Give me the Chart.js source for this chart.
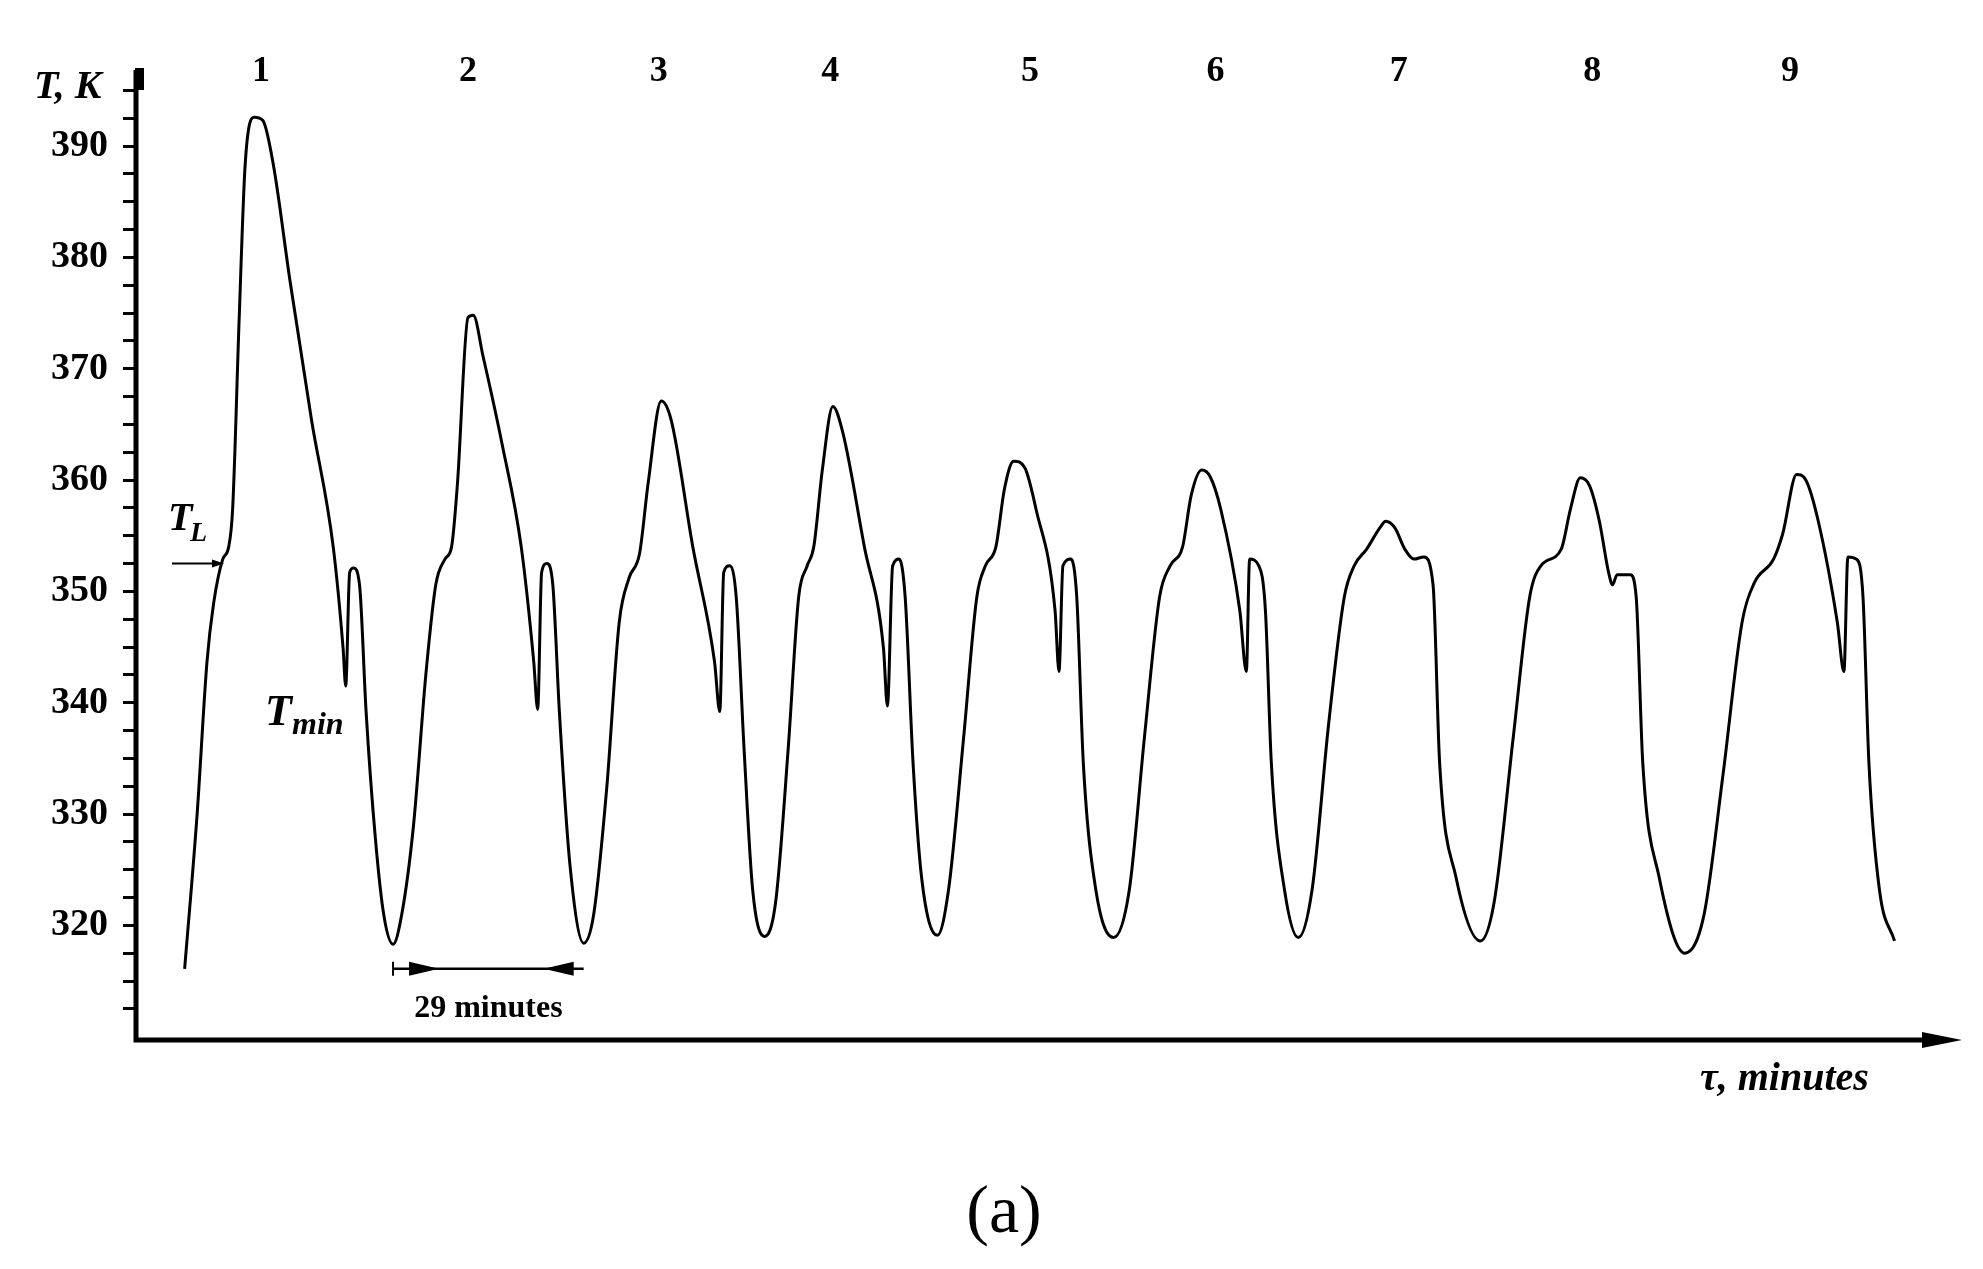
<!DOCTYPE html>
<html>
<head>
<meta charset="utf-8">
<script src="https://cdn.jsdelivr.net/npm/chart.js@4"></script>
<style>
  body { margin: 0; background: #fff; }
  #wrap { width: 1983px; height: 1269px; }
</style>
</head>
<body>
<div id="wrap"><canvas id="c"></canvas></div>
<script>
// time, minutes
const timeMin = [7.4, 9.3, 10.8, 11.8, 13.2, 14.1, 14.7, 15.7, 16.6, 18.0, 19.3, 20.9, 23.4, 26.7, 30.0, 31.5, 31.9,
  32.5, 33.1, 34.0, 35.0, 36.4, 37.7, 39.1, 40.4, 42.2, 44.1, 45.6, 47.0, 48.0, 48.9, 50.5, 51.3, 52.8, 55.7, 58.6,
  60.5, 61.1, 61.7, 62.5, 63.4, 64.4, 66.0, 68.1, 69.6, 71.6, 73.5, 75.0, 76.6, 77.9, 79.9, 81.4, 84.7, 88.0, 88.8,
  89.4, 90.3, 91.3, 92.5, 93.8, 95.6, 97.3, 99.2, 100.8, 102.1, 103.1, 104.4, 106.0, 107.5, 110.8, 113.7, 114.3,
  115.1, 116.1, 117.0, 118.2, 119.5, 121.9, 123.6, 125.9, 127.9, 129.2, 130.8, 132.1, 133.5, 135.2, 136.9, 139.8,
  140.4, 141.0, 142.2, 143.1, 144.1, 146.0, 148.7, 151.1, 153.4, 155.7, 157.3, 159.2, 160.5, 162.1, 163.4, 165.0,
  167.9, 168.9, 169.4, 170.8, 171.8, 172.7, 174.7, 176.8, 178.9, 181.4, 183.8, 185.3, 187.2, 189.2, 190.1, 191.5,
  193.0, 194.4, 195.9, 197.3, 198.3, 200.8, 204.5, 206.6, 209.5, 212.0, 213.7, 216.8, 218.2, 219.7, 221.1, 222.6,
  224.0, 224.6, 225.3, 227.3, 228.2, 229.2, 231.7, 235.6, 238.5, 241.4, 244.3, 246.2, 249.1, 250.5, 252.6, 254.0,
  255.9, 258.8, 259.8, 260.4, 261.7, 262.7, 263.6, 265.2, 267.5];
// temperature, K
const tempK = [316.1, 330.0, 343.7, 348.9, 352.9, 354.0, 357.4, 374.6, 388.3, 392.6, 392.3, 388.3, 378.0, 365.4, 354.0, 344.9, 341.5,
  351.7, 352.1, 350.6, 339.2, 327.9, 320.9, 318.3, 320.9, 328.9, 342.6, 350.6, 352.9, 354.0, 359.7, 374.6, 374.8, 371.1, 363.2, 354.0,
  343.7, 339.4, 351.7, 352.5, 350.6, 339.2, 325.5, 318.4, 320.9, 332.3, 347.2, 351.2, 353.4, 359.7, 367.1, 365.4, 354.0, 343.7, 339.2,
  351.7, 352.3, 349.5, 335.8, 323.2, 319.0, 322.1, 335.8, 349.5, 352.3, 354.0, 360.9, 366.6, 364.3, 354.0, 344.9, 339.7,
  352.3, 352.9, 349.5, 334.6, 324.3, 319.1, 323.2, 336.9, 349.5, 352.3, 354.0, 359.2, 361.7, 361.1, 357.4, 348.3,
  342.8, 352.3, 352.9, 349.5, 334.6, 323.2, 318.9, 323.2, 336.9, 349.5, 352.3, 354.0, 358.6, 360.9, 360.3, 357.4,
  348.3, 342.8, 352.9, 352.3, 348.3, 334.6, 323.2, 318.9, 323.2, 338.0, 349.5, 352.3, 353.8, 355.7, 356.3, 355.7,
  353.8, 352.9, 353.1, 350.6, 334.6, 324.3, 318.6, 322.1, 336.9, 349.5, 352.3, 353.8, 357.4, 360.2, 359.5, 356.3,
  351.7, 350.6, 351.5, 351.5, 349.5, 334.6, 324.3, 317.5, 320.9, 333.5, 347.2, 350.8, 352.9, 355.2, 360.5, 360.0,
  356.3, 347.2, 342.8, 353.1, 352.9, 349.5, 334.6, 323.2, 318.6];
// cycle numbers above the peaks
const cycleLabels = ["1", "2", "3", "4", "5", "6", "7", "8", "9"];
const cyclePos = [19.0, 50.5, 79.5, 105.6, 136.0, 164.2, 192.1, 221.5, 251.6];

const serif = "'Liberation Serif', 'DejaVu Serif', serif";

const points = timeMin.map((t, i) => ({ x: t, y: tempK[i] }));

function arrowHead(ctx, x, y, dir, len, half) {
  ctx.beginPath();
  ctx.moveTo(x, y);
  ctx.lineTo(x - dir * len, y - half);
  ctx.lineTo(x - dir * len, y + half);
  ctx.closePath();
  ctx.fill();
}

const extras = {
  id: "extras",
  afterDraw(chart) {
    const ctx = chart.ctx;
    const xs = chart.scales.x, ys = chart.scales.y;
    const a = chart.chartArea;
    ctx.save();
    ctx.fillStyle = "#000";
    ctx.strokeStyle = "#000";
    // axes
    ctx.lineWidth = 5;
    ctx.beginPath();
    ctx.moveTo(a.left, a.top - 6);
    ctx.lineTo(a.left, a.bottom);
    ctx.lineTo(a.right - 10, a.bottom);
    ctx.stroke();
    arrowHead(ctx, a.right + 5, a.bottom, 1, 40, 8);
    ctx.fillRect(a.left - 1, a.top - 8, 9, 22);
    // y tick labels
    ctx.font = "bold 38px " + serif;
    ctx.textAlign = "right";
    ctx.textBaseline = "middle";
    ys.ticks.forEach(t => {
      if (t.value % 10 === 0 && t.value >= 320 && t.value <= 390) {
        ctx.fillText(String(t.value), a.left - 28, ys.getPixelForValue(t.value));
      }
    });
    // cycle numbers
    ctx.font = "bold 36px " + serif;
    ctx.textAlign = "center";
    cycleLabels.forEach((s, i) => ctx.fillText(s, xs.getPixelForValue(cyclePos[i]), 72));
    // axis titles
    ctx.font = "italic bold 40px " + serif;
    ctx.textAlign = "left";
    ctx.fillText("T, K", 34, 88);
    ctx.fillText("\u03c4, minutes", 1700, 1080);
    // T_L
    ctx.fillText("T", 168, 520);
    ctx.font = "italic bold 28px " + serif;
    ctx.fillText("L", 190, 534);
    ctx.lineWidth = 2;
    const yl = ys.getPixelForValue(352.5);
    ctx.beginPath(); ctx.moveTo(172, yl); ctx.lineTo(215, yl); ctx.stroke();
    arrowHead(ctx, 224, yl, 1, 12, 4);
    // T_min
    ctx.font = "italic bold 44px " + serif;
    ctx.fillText("T", 265, 714);
    ctx.font = "italic bold 32px " + serif;
    ctx.fillText("min", 292, 726);
    // 29 minutes
    const y29 = ys.getPixelForValue(316.1);
    const x1 = xs.getPixelForValue(39.1), x2 = xs.getPixelForValue(68.1);
    ctx.lineWidth = 2.5;
    ctx.beginPath(); ctx.moveTo(x1, y29); ctx.lineTo(x2, y29); ctx.stroke();
    arrowHead(ctx, x1 + 46, y29, 1, 30, 7);
    arrowHead(ctx, x2 - 40, y29, -1, 30, 7);
    ctx.lineWidth = 2;
    ctx.beginPath(); ctx.moveTo(x1, y29 - 7); ctx.lineTo(x1, y29 + 7); ctx.stroke();
    ctx.font = "bold 32px " + serif;
    ctx.textAlign = "center";
    ctx.fillText("29 minutes", (x1 + x2) / 2, y29 + 40);
    // (a)
    ctx.font = "68px " + serif;
    ctx.fillText("(a)", 1004, 1214);
    ctx.restore();
  }
};

new Chart(document.getElementById("c"), {
  type: "line",
  data: {
    datasets: [{
      data: points,
      borderColor: "#000",
      borderWidth: 3,
      pointRadius: 0,
      cubicInterpolationMode: "monotone"
    }]
  },
  options: {
    responsive: true,
    maintainAspectRatio: false,
    animation: false,
    layout: { padding: { left: 0, right: 26, top: 76, bottom: 229 } },
    plugins: { legend: { display: false }, tooltip: { enabled: false } },
    scales: {
      x: {
        type: "linear",
        min: 0,
        max: 277,
        border: { display: false },
        grid: { display: false },
        ticks: { display: false },
        afterFit: s => { s.height = 0; }
      },
      y: {
        min: 309.7,
        max: 396.3,
        border: { display: false },
        grid: { drawOnChartArea: false, tickLength: 13, tickWidth: 3, tickColor: "#000" },
        afterBuildTicks: s => {
          const t = [];
          for (let v = 312.5; v <= 395; v += 2.5) t.push({ value: v });
          s.ticks = t;
        },
        ticks: { display: false, autoSkip: false },
        afterFit: s => { s.width = 136; }
      }
    }
  },
  plugins: [extras]
});
</script>
</body>
</html>
